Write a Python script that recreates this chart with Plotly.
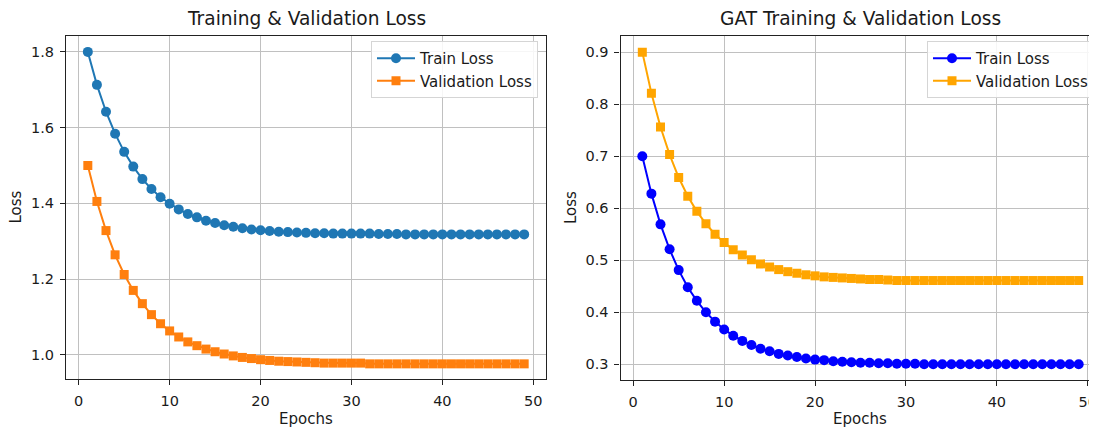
import plotly.graph_objects as go

epochs = list(range(1, 50))

train_loss = [1.800, 1.713, 1.642, 1.584, 1.536, 1.497, 1.464, 1.438, 1.416, 1.399,
              1.384, 1.372, 1.363, 1.354, 1.348, 1.342, 1.338, 1.334, 1.331, 1.329,
              1.327, 1.325, 1.324, 1.323, 1.322, 1.321, 1.321, 1.320, 1.320, 1.320,
              1.320, 1.320, 1.319, 1.319, 1.319, 1.318, 1.318, 1.318, 1.318, 1.318,
              1.318, 1.318, 1.318, 1.318, 1.318, 1.318, 1.318, 1.318, 1.318]
val_loss = [1.500, 1.405, 1.328, 1.264, 1.212, 1.170, 1.135, 1.106, 1.082, 1.063,
            1.047, 1.034, 1.024, 1.015, 1.008, 1.002, 0.997, 0.993, 0.990, 0.987,
            0.985, 0.983, 0.982, 0.981, 0.980, 0.979, 0.978, 0.978, 0.978, 0.978,
            0.978, 0.976, 0.976, 0.976, 0.976, 0.976, 0.976, 0.976, 0.976, 0.976,
            0.976, 0.976, 0.976, 0.976, 0.976, 0.976, 0.976, 0.976, 0.976]

gat_train_loss = [0.700, 0.628, 0.569, 0.521, 0.481, 0.448, 0.422, 0.400, 0.382, 0.367,
                  0.355, 0.345, 0.337, 0.330, 0.325, 0.320, 0.317, 0.314, 0.311, 0.309,
                  0.308, 0.306, 0.305, 0.304, 0.303, 0.303, 0.302, 0.302, 0.301, 0.301,
                  0.301, 0.300, 0.300, 0.300, 0.300, 0.300, 0.300, 0.300, 0.300, 0.300,
                  0.300, 0.300, 0.300, 0.300, 0.300, 0.300, 0.300, 0.300, 0.300]
gat_val_loss = [0.900, 0.821, 0.756, 0.703, 0.659, 0.623, 0.594, 0.570, 0.550, 0.534,
                0.520, 0.510, 0.501, 0.493, 0.487, 0.482, 0.478, 0.475, 0.472, 0.470,
                0.468, 0.467, 0.466, 0.465, 0.464, 0.463, 0.463, 0.462, 0.461, 0.461,
                0.461, 0.461, 0.461, 0.461, 0.461, 0.461, 0.461, 0.461, 0.461, 0.461,
                0.461, 0.461, 0.461, 0.461, 0.461, 0.461, 0.461, 0.461, 0.461]

titles = ["Training & Validation Loss", "GAT Training & Validation Loss"]
x_ticks = [0, 10, 20, 30, 40, 50]
left_y_ticks = [1.0, 1.2, 1.4, 1.6, 1.8]
right_y_ticks = [0.3, 0.4, 0.5, 0.6, 0.7, 0.8, 0.9]

W, H = 1097, 427
OFF = 8  # default page body margin
FONT = "DejaVu Sans"
TXT = "#1a1a1a"


def px_x(p):
    return (p - OFF) / W


def px_y(p):
    return 1 - (p - OFF) / H


fig = go.Figure()

fig.add_trace(go.Scatter(x=epochs, y=train_loss, name="Train Loss", mode="lines+markers",
                         line=dict(color="#1f77b4", width=2),
                         marker=dict(symbol="circle", size=10, color="#1f77b4"),
                         xaxis="x", yaxis="y", legend="legend"))
fig.add_trace(go.Scatter(x=epochs, y=val_loss, name="Validation Loss", mode="lines+markers",
                         line=dict(color="#ff7f0e", width=2),
                         marker=dict(symbol="square", size=9, color="#ff7f0e"),
                         xaxis="x", yaxis="y", legend="legend"))
fig.add_trace(go.Scatter(x=epochs, y=gat_train_loss, name="Train Loss", mode="lines+markers",
                         line=dict(color="#0000ff", width=2),
                         marker=dict(symbol="circle", size=10, color="#0000ff"),
                         xaxis="x2", yaxis="y2", legend="legend2"))
fig.add_trace(go.Scatter(x=epochs, y=gat_val_loss, name="Validation Loss", mode="lines+markers",
                         line=dict(color="#ffa500", width=2),
                         marker=dict(symbol="square", size=9, color="#ffa500"),
                         xaxis="x2", yaxis="y2", legend="legend2"))

axis_common = dict(showgrid=True, gridcolor="#c0c0c0", gridwidth=1, zeroline=False,
                   showline=True, linecolor="#222", linewidth=1.2, mirror=True,
                   ticks="outside", ticklen=5, tickwidth=1, tickcolor="#222",
                   ticklabelstandoff=3, ticklabeloverflow="allow",
                   tickfont=dict(family=FONT, size=14.5, color=TXT), automargin=False)

legend_common = dict(xanchor="right", yanchor="top", y=px_y(41), itemwidth=38,
                     bgcolor="rgba(255,255,255,0.85)", bordercolor="#d5d5d5", borderwidth=1,
                     font=dict(family=FONT, size=15, color=TXT))

fig.update_layout(
    width=W, height=H,
    margin=dict(l=0, r=0, t=0, b=0),
    paper_bgcolor="white", plot_bgcolor="white",
    font=dict(family=FONT, color=TXT),
    xaxis=dict(domain=[px_x(66), px_x(546)], range=[-1.4, 51.4], tickvals=x_ticks,
               anchor="y", **axis_common),
    yaxis=dict(domain=[px_y(379), px_y(36)], range=[0.936, 1.842], tickvals=left_y_ticks,
               tickformat=".1f", anchor="x", **axis_common),
    xaxis2=dict(domain=[px_x(620.5), px_x(1100.5)], range=[-1.4, 51.4], tickvals=x_ticks,
                anchor="y2", **axis_common),
    yaxis2=dict(domain=[px_y(380), px_y(36)], range=[0.2698, 0.931], tickvals=right_y_ticks,
                tickformat=".1f", anchor="x2", **axis_common),
    legend=dict(x=px_x(538), **legend_common),
    legend2=dict(x=px_x(1094), **legend_common),
    showlegend=True,
)

ann = []
for cx, t in ((306, titles[0]), (860, titles[1])):
    ann.append(dict(text=t, x=px_x(cx), y=px_y(18), xref="paper", yref="paper",
                    showarrow=False, font=dict(family=FONT, size=18.6, color=TXT),
                    xanchor="center", yanchor="middle"))
for cx in (306, 860):
    ann.append(dict(text="Epochs", x=px_x(cx), y=px_y(419), xref="paper", yref="paper",
                    showarrow=False, font=dict(family=FONT, size=15, color=TXT),
                    xanchor="center", yanchor="middle"))
for lx, cy in ((16, 207.5), (571, 208)):
    ann.append(dict(text="Loss", x=px_x(lx), y=px_y(cy), xref="paper", yref="paper",
                    showarrow=False, textangle=-90, font=dict(family=FONT, size=15, color=TXT),
                    xanchor="center", yanchor="middle"))
fig.update_layout(annotations=ann)

fig.write_html("out.html")
